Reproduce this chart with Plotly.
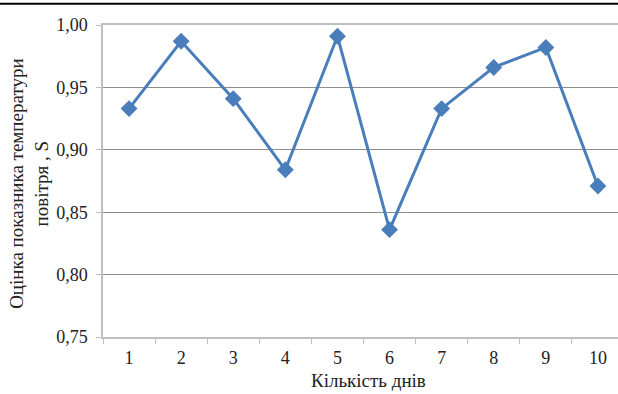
import plotly.graph_objects as go

days = ["1", "2", "3", "4", "5", "6", "7", "8", "9", "10"]
scores = [0.933, 0.987, 0.941, 0.884, 0.991, 0.836, 0.933, 0.966, 0.982, 0.871]
y_title = "Оцінка показника температури<br>повітря , S"
x_title = "Кількість днів"

FONT = "Liberation Serif"

fig = go.Figure()
fig.add_trace(go.Scatter(
    x=days, y=scores, mode="lines+markers",
    line=dict(color="#4a7ebb", width=3),
    marker=dict(symbol="diamond", size=13, color="#4a7ebb"),
    showlegend=False, cliponaxis=False,
))

fig.update_layout(
    width=618, height=394,
    margin=dict(l=103, r=0, t=25, b=57, autoexpand=False),
    paper_bgcolor="white", plot_bgcolor="white",
    separators=", ",
    font=dict(family=FONT, size=18, color="#222222"),
    xaxis=dict(
        type="category", range=[-0.5, 9.385], automargin=False,
        tickson="boundaries", ticks="outside", ticklen=5, tickcolor="#bfbfbf",
        showline=True, linecolor="#bfbfbf", linewidth=1.5, mirror=True,
        showgrid=False, tickfont=dict(family=FONT, size=18),
        ticklabelstandoff=4,
    ),
    yaxis=dict(
        range=[0.75, 1.0], dtick=0.05, tick0=0.75, tickformat=".2f",
        automargin=False,
        ticks="outside", ticklen=5, tickcolor="#bfbfbf",
        showline=True, linecolor="#bfbfbf", linewidth=1.5,
        showgrid=True, gridcolor="#8e8e8e", gridwidth=1,
        zeroline=False, tickfont=dict(family=FONT, size=18),
        ticklabelstandoff=5,
    ),
    shapes=[dict(type="line", xref="paper", yref="paper", layer="above",
                 x0=-0.25, x1=1.0, y0=1.068, y1=1.068,
                 line=dict(color="black", width=2))],
    annotations=[
        dict(text=y_title, textangle=-90, xref="paper", yref="paper",
             x=-0.1437, y=0.494, xanchor="center", yanchor="middle",
             showarrow=False, font=dict(family=FONT, size=19)),
        dict(text=x_title, xref="paper", yref="paper",
             x=0.5146, y=-0.178, xanchor="center", yanchor="bottom",
             showarrow=False, font=dict(family=FONT, size=19)),
    ],
)

fig.write_html("out.html", config={"displayModeBar": False},
               post_script="document.body.style.margin='0';document.body.style.overflow='hidden';")
